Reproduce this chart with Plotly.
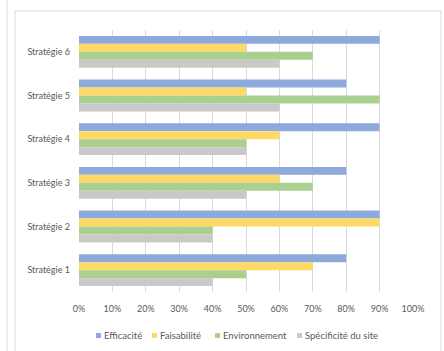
import plotly.graph_objects as go

# Strategies and criteria scores (share of maximum)
strategies = ["Stratégie 1", "Stratégie 2", "Stratégie 3", "Stratégie 4", "Stratégie 5", "Stratégie 6"]
efficacite = [0.80, 0.90, 0.80, 0.90, 0.80, 0.90]
faisabilite = [0.70, 0.90, 0.60, 0.60, 0.50, 0.50]
environnement = [0.50, 0.40, 0.70, 0.50, 0.90, 0.70]
specificite = [0.40, 0.40, 0.50, 0.50, 0.60, 0.60]

series = [
    ("Efficacité", efficacite, "#8EA9DB"),
    ("Faisabilité", faisabilite, "#FFD966"),
    ("Environnement", environnement, "#A9D08E"),
    ("Spécificité du site", specificite, "#C9C9C9"),
]

W, H = 444, 351
L, R, T, B = 79, 31, 30, 59
pw, ph = W - L - R, H - T - B


def px_x(p):
    return (p - L) / pw


def px_y(p):
    return (H - B - p) / ph


fig = go.Figure()
for name, vals, col in series:
    fig.add_trace(go.Bar(
        y=strategies, x=vals, name=name, orientation="h",
        marker=dict(color=col, line=dict(width=0)),
    ))

font = dict(family="Lato, Open Sans, sans-serif", size=9, color="#595959")

shapes = [
    # outer chart frame
    dict(type="rect", xref="paper", yref="paper",
         x0=px_x(15), x1=px_x(441), y0=px_y(360), y1=px_y(11),
         line=dict(color="#D9D9D9", width=1), fillcolor="rgba(0,0,0,0)",
         layer="below"),
    # neighbouring panel edge
    dict(type="line", xref="paper", yref="paper",
         x0=px_x(7), x1=px_x(7), y0=px_y(360), y1=px_y(-5),
         line=dict(color="#D9D9D9", width=1)),
]
annotations = []

# legend row drawn beneath the axis: small swatch followed by its label
legend_x = [96, 152, 215, 297]
legend_y = 335.5
for (name, _, col), lx in zip(series, legend_x):
    shapes.append(dict(
        type="rect", xref="paper", yref="paper",
        x0=px_x(lx), x1=px_x(lx + 5), y0=px_y(legend_y + 2.5), y1=px_y(legend_y - 2.5),
        line=dict(width=0), fillcolor=col,
    ))
    annotations.append(dict(
        x=px_x(lx + 6), y=px_y(legend_y), xref="paper", yref="paper",
        text=name, showarrow=False, xanchor="left", yanchor="middle",
        font=dict(family=font["family"], size=9.5, color=font["color"]),
    ))

fig.update_layout(
    width=W, height=H,
    margin=dict(l=L, r=R, t=T, b=B, autoexpand=False),
    paper_bgcolor="white", plot_bgcolor="white",
    barmode="group", bargap=0.27, bargroupgap=0,
    font=font,
    showlegend=False,
    xaxis=dict(
        range=[0, 1], dtick=0.1, tick0=0, tickformat=".0%",
        showgrid=True, gridcolor="#D9D9D9", gridwidth=1,
        zeroline=False, showline=False, ticks="",
        ticklabelstandoff=10, fixedrange=True,
    ),
    yaxis=dict(
        categoryorder="array", categoryarray=strategies[::-1],
        autorange="reversed",
        showgrid=False, zeroline=False, showline=False, ticks="",
        ticklabelstandoff=8, fixedrange=True,
    ),
    shapes=shapes,
    annotations=annotations,
)

fig.write_html("out.html")
